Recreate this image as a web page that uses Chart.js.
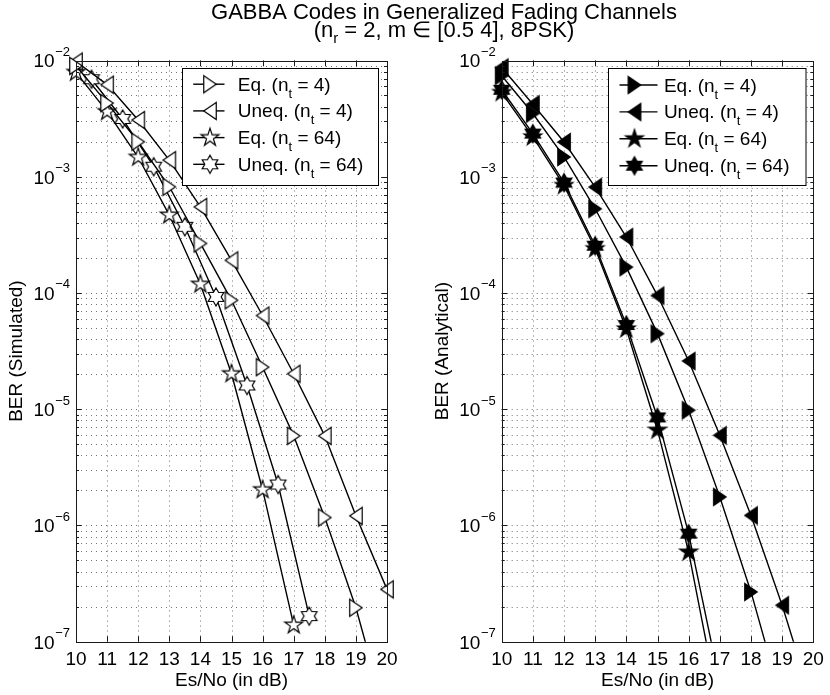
<!DOCTYPE html>
<html>
<head>
<meta charset="utf-8">
<script src="https://cdn.jsdelivr.net/npm/chart.js@4.4.0/dist/chart.umd.min.js"></script>
<style>
  html, body { margin: 0; padding: 0; background: #fff; }
  #wrap { position: relative; width: 830px; height: 695px; overflow: hidden; }
  canvas { position: absolute; top: 0; }
</style>
</head>
<body>
<div id="wrap">
  <canvas id="cT" width="830" height="695" style="left:0"></canvas>
  <canvas id="cL" width="415" height="695" style="left:0"></canvas>
  <canvas id="cR" width="415" height="695" style="left:415px"></canvas>
</div>
<script>
// ---------------- data ----------------
const snrSteps = [10, 11, 12, 13, 14, 15, 16, 17, 18, 19, 20];
const snrHalf  = [10.5, 11.5, 12.5, 13.5, 14.5, 15.5, 16.5, 17.5];

// Left panel: BER (Simulated)
const simEq4    = [9.0e-3, 4.3e-3, 2.0e-3, 8.2e-4, 2.67e-4, 8.65e-5, 2.3e-5, 5.9e-6, 1.17e-6, 1.96e-7, 2.1e-8];
const simUneq4  = [9.8e-3, 6.2e-3, 3.08e-3, 1.39e-3, 5.5e-4, 1.91e-4, 6.4e-5, 2.02e-5, 5.9e-6, 1.21e-6, 2.82e-7];
const simEq64   = [7.9e-3, 3.63e-3, 1.47e-3, 4.68e-4, 1.19e-4, 2.02e-5, 2.03e-6, 1.39e-7];   // at snrSteps
const simUneq64 = [6.9e-3, 3.14e-3, 1.22e-3, 3.71e-4, 9.25e-5, 1.6e-5, 2.25e-6, 1.66e-7];    // at snrHalf

// Right panel: BER (Analytical)
const anaEq4    = [7.4e-3, 3.5e-3, 1.48e-3, 5.3e-4, 1.67e-4, 4.47e-5, 9.8e-6, 1.76e-6, 2.68e-7, 3.0e-8];
const anaUneq4  = [8.7e-3, 4.2e-3, 1.99e-3, 8.15e-4, 3.03e-4, 9.5e-5, 2.6e-5, 5.97e-6, 1.22e-6, 2.06e-7, 2.8e-8];
const anaEq64   = [5.3e-3, 2.2e-3, 8.4e-4, 2.4e-4, 4.9e-5, 6.6e-6, 5.9e-7, 2.5e-8];
const anaUneq64 = [5.6e-3, 2.35e-3, 8.9e-4, 2.55e-4, 5.3e-5, 8.5e-6, 8.5e-7, 4.4e-8];

const xTicks = [10, 11, 12, 13, 14, 15, 16, 17, 18, 19, 20];
const yDecades = [-7, -6, -5, -4, -3, -2];
const legendNames = ['Eq.', 'Uneq.', 'Eq.', 'Uneq.'];
const legendNt = ['4', '4', '64', '64'];
const titleLine1 = 'GABBA Codes in Generalized Fading Channels';
const xTitle = 'Es/No (in dB)';
const yTitleLeft = 'BER (Simulated)';
const yTitleRight = 'BER (Analytical)';

// ---------------- helpers ----------------
const FONT = '"Liberation Sans", Arial, Helvetica, sans-serif';
const F_MAIN = '19px ' + FONT;
const F_SMALL = '13px ' + FONT;
const F_TITLE = '22px ' + FONT;
const F_TITLE_SUB = '15px ' + FONT;

const yGrid = [];
yDecades.forEach((k, i) => {
  if (i === yDecades.length - 1) { yGrid.push(Math.pow(10, k)); return; }
  for (let m = 1; m <= 9; m++) yGrid.push(Number((m * Math.pow(10, k)).toPrecision(3)));
});

function pts(xs, ys) { return ys.map((v, i) => ({ x: xs[i], y: v })); }

function marker(kind, filled) {
  const c = document.createElement('canvas');
  c.width = 28; c.height = 28;
  const g = c.getContext('2d');
  g.translate(14, 14);
  g.beginPath();
  if (kind === 'right' || kind === 'left') {
    const w = 12.5, h = 17, s = kind === 'right' ? 1 : -1;
    g.moveTo(-s * w / 2, -h / 2);
    g.lineTo(s * w / 2, 0);
    g.lineTo(-s * w / 2, h / 2);
    g.closePath();
  } else {
    const n = kind === 'penta' ? 5 : 6;
    const R = kind === 'penta' ? 9.4 : 9.0;
    const r = n === 5 ? R * 0.382 : R * 0.577;
    for (let i = 0; i < 2 * n; i++) {
      const ang = -Math.PI / 2 + i * Math.PI / n;
      const rad = i % 2 ? r : R;
      const px = rad * Math.cos(ang), py = rad * Math.sin(ang);
      if (i === 0) g.moveTo(px, py); else g.lineTo(px, py);
    }
    g.closePath();
  }
  g.fillStyle = filled ? '#000' : '#fff';
  g.fill();
  g.lineWidth = 1.2;
  g.lineJoin = 'miter';
  g.strokeStyle = '#000';
  g.stroke();
  return c;
}

function drawParts(ctx, parts, x, y, align, fMain, fSub, subDrop) {
  fMain = fMain || F_MAIN; fSub = fSub || F_SMALL; subDrop = subDrop || 7;
  let total = 0;
  parts.forEach(p => { ctx.font = p.sub ? fSub : fMain; p.w = ctx.measureText(p.t).width; total += p.w; });
  let cx = align === 'center' ? x - total / 2 : x;
  ctx.textAlign = 'left';
  ctx.textBaseline = 'alphabetic';
  parts.forEach(p => {
    ctx.font = p.sub ? fSub : fMain;
    ctx.fillText(p.t, cx, p.sub ? y + subDrop : y);
    cx += p.w;
  });
}

function makeFrame(opt) {
  return {
    id: 'matlabFrame',
    beforeDatasetsDraw(chart) {
      const { ctx, chartArea: a, scales: { x, y } } = chart;
      ctx.save();
      ctx.strokeStyle = 'rgba(0,0,0,0.55)';
      ctx.lineWidth = 1;
      ctx.setLineDash([1, 4]);
      ctx.beginPath();
      xTicks.forEach(v => {
        if (v <= x.min || v >= x.max) return;
        const px = Math.round(x.getPixelForValue(v)) + 0.5;
        ctx.moveTo(px, a.top); ctx.lineTo(px, a.bottom);
      });
      yGrid.forEach(v => {
        if (v <= y.min * 1.001 || v >= y.max * 0.999) return;
        const py = Math.round(y.getPixelForValue(v)) + 0.5;
        ctx.moveTo(a.left, py); ctx.lineTo(a.right, py);
      });
      ctx.stroke();
      ctx.restore();
    },
    afterDatasetsDraw(chart) {
      const { ctx, chartArea: a, scales: { x, y } } = chart;
      ctx.save();
      ctx.strokeStyle = '#1a1a1a';
      ctx.lineWidth = 1;
      ctx.beginPath();
      xTicks.forEach(v => {
        if (v <= x.min || v >= x.max) return;
        const px = Math.round(x.getPixelForValue(v)) + 0.5;
        ctx.moveTo(px, a.bottom); ctx.lineTo(px, a.bottom - 5.5);
        ctx.moveTo(px, a.top); ctx.lineTo(px, a.top + 5.5);
      });
      yGrid.forEach(v => {
        if (v <= y.min * 1.001 || v >= y.max * 0.999) return;
        const py = Math.round(y.getPixelForValue(v)) + 0.5;
        const major = Math.abs(Math.log10(v) - Math.round(Math.log10(v))) < 1e-6;
        const len = major ? 5.5 : 3;
        ctx.moveTo(a.left, py); ctx.lineTo(a.left + len, py);
        ctx.moveTo(a.right, py); ctx.lineTo(a.right - len, py);
      });
      ctx.stroke();
      ctx.strokeRect(Math.round(a.left) + 0.5, Math.round(a.top) + 0.5,
                     Math.round(a.right) - Math.round(a.left), Math.round(a.bottom) - Math.round(a.top));
      // legend
      const L = opt.legend;
      const bx = Math.round(a.right - L.rightGap - L.w) + 0.5;
      const by = Math.round(a.top + L.topGap) + 0.5;
      ctx.fillStyle = '#fff';
      ctx.fillRect(bx, by, L.w, L.h);
      ctx.strokeStyle = '#000';
      ctx.strokeRect(bx, by, L.w, L.h);
      chart.data.datasets.forEach((ds, i) => {
        const ry = by + L.row0 + i * L.rowStep;
        ctx.beginPath();
        ctx.lineWidth = 1.4;
        ctx.moveTo(bx + L.line1, ry); ctx.lineTo(bx + L.line2, ry);
        ctx.stroke();
        const img = ds.pointStyle;
        ctx.drawImage(img, bx + L.mk - img.width / 2, ry - img.height / 2);
        ctx.fillStyle = '#000';
        drawParts(ctx, [{ t: legendNames[i] + ' (n' }, { t: 't', sub: true }, { t: ' = ' + legendNt[i] + ')' }], bx + L.text, ry + 6.5, 'left');
      });
      ctx.restore();
    },
    afterDraw(chart) {
      const { ctx, chartArea: a, scales: { x, y } } = chart;
      ctx.save();
      ctx.fillStyle = '#000';
      ctx.font = F_MAIN;
      ctx.textAlign = 'center';
      ctx.textBaseline = 'alphabetic';
      xTicks.forEach(v => {
        ctx.fillText(String(v), x.getPixelForValue(v), a.bottom + 23.5);
      });
      yDecades.forEach(k => {
        const py = y.getPixelForValue(Math.pow(10, k));
        const expTxt = '\u2212' + Math.abs(k);
        ctx.font = F_SMALL;
        const ew = ctx.measureText(expTxt).width;
        const ex = a.left - 6 - ew;
        ctx.textAlign = 'left';
        ctx.fillText(expTxt, ex, py - 4.5);
        ctx.font = F_MAIN;
        ctx.textAlign = 'right';
        ctx.fillText('10', ex - 0.5, py + 6.8);
      });
      ctx.font = F_MAIN;
      ctx.textAlign = 'center';
      ctx.fillText(xTitle, (a.left + a.right) / 2, 685.5);
      ctx.translate(opt.yTitleX, (a.top + a.bottom) / 2);
      ctx.rotate(-Math.PI / 2);
      ctx.fillText(opt.yTitle, 0, 0);
      ctx.restore();
    }
  };
}

function makeChart(canvasId, datasets, opt) {
  return new Chart(document.getElementById(canvasId), {
    type: 'line',
    data: { datasets },
    options: {
      responsive: false,
      animation: false,
      events: [],
      layout: { padding: { left: 0, right: opt.padRight, top: opt.padTop, bottom: 0 } },
      plugins: { legend: { display: false }, tooltip: { enabled: false } },
      scales: {
        x: {
          type: 'linear', min: 10, max: 20,
          afterBuildTicks: s => { s.ticks = xTicks.map(v => ({ value: v })); },
          ticks: { display: false },
          grid: { display: false, drawTicks: false },
          border: { display: false },
          afterFit: s => { s.height = opt.xHeight; }
        },
        y: {
          type: 'logarithmic', min: 1e-7, max: 1e-2,
          afterBuildTicks: s => { s.ticks = yGrid.map(v => ({ value: v })); },
          ticks: { display: false },
          grid: { display: false, drawTicks: false },
          border: { display: false },
          afterFit: s => { s.width = opt.yWidth; }
        }
      }
    },
    plugins: [makeFrame(opt)]
  });
}

function series(data, img) {
  return {
    data, borderColor: '#000', borderWidth: 1.4, tension: 0, fill: false,
    pointStyle: img, pointRadius: 8, pointHoverRadius: 8,
    clip: { left: 14, right: 14, top: 14, bottom: 0 }
  };
}

// ---------------- title ----------------
(function () {
  const ctx = document.getElementById('cT').getContext('2d');
  ctx.fillStyle = '#000';
  ctx.font = F_TITLE;
  ctx.textAlign = 'center';
  ctx.textBaseline = 'alphabetic';
  ctx.fillText(titleLine1, 444, 19);
  drawParts(ctx, [{ t: '(n' }, { t: 'r', sub: true }, { t: ' = 2, m \u2208 [0.5 4], 8PSK)' }], 444, 37, 'center', F_TITLE, F_TITLE_SUB, 6);
})();

// ---------------- charts ----------------
makeChart('cL', [
  series(pts(snrSteps, simEq4), marker('right', false)),
  series(pts(snrSteps, simUneq4), marker('left', false)),
  series(pts(snrSteps, simEq64), marker('penta', false)),
  series(pts(snrHalf, simUneq64), marker('hexa', false))
], {
  padRight: 28, padTop: 60.5, xHeight: 53.3, yWidth: 76,
  yTitle: yTitleLeft, yTitleX: 22,
  legend: { w: 196, h: 117, rightGap: 9, topGap: 7.8, row0: 15.7, rowStep: 26.7, line1: 10.7, line2: 42, mk: 27.5, text: 55.3 }
});

makeChart('cR', [
  series(pts(snrSteps, anaEq4), marker('right', true)),
  series(pts(snrSteps, anaUneq4), marker('left', true)),
  series(pts(snrSteps, anaEq64), marker('penta', true)),
  series(pts(snrSteps, anaUneq64), marker('hexa', true))
], {
  padRight: 16.7, padTop: 60.5, xHeight: 53.3, yWidth: 86.7,
  yTitle: yTitleRight, yTitleX: 32.5,
  legend: { w: 197.5, h: 117, rightGap: 8.3, topGap: 7.8, row0: 16.5, rowStep: 26.9, line1: 11, line2: 49, mk: 26, text: 55.4 }
});
</script>
</body>
</html>
